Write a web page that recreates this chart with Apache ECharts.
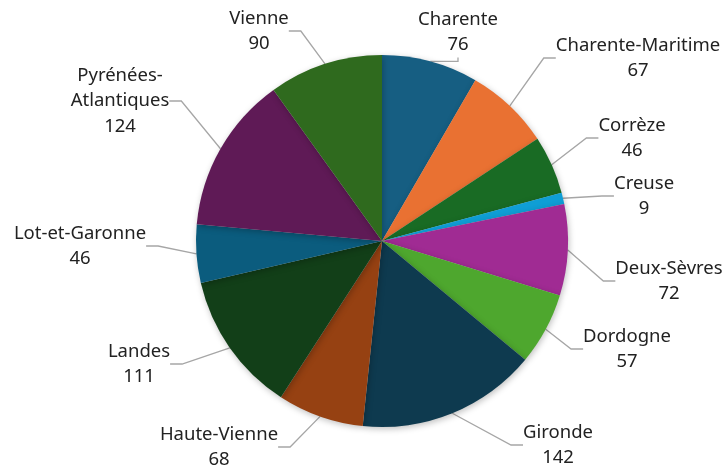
<!DOCTYPE html>
<html>
<head>
<meta charset="utf-8">
<script src="https://cdn.jsdelivr.net/npm/echarts@6/dist/echarts.min.js"></script>
<style>
  html, body { margin: 0; padding: 0; background: #ffffff; }
  #chart { width: 726px; height: 468px; }
</style>
</head>
<body>
<div id="chart"></div>
<script>
// Départements and their counts
const departements = [
  'Charente', 'Charente-Maritime', 'Corrèze', 'Creuse', 'Deux-Sèvres', 'Dordogne',
  'Gironde', 'Haute-Vienne', 'Landes', 'Lot-et-Garonne', 'Pyrénées-\nAtlantiques', 'Vienne'
];
const valeurs = [76, 67, 46, 9, 72, 57, 142, 68, 111, 46, 124, 90];
const couleurs = [
  '#165e82', '#e97132', '#196b24', '#0f9ed5', '#a02b93', '#4ea72e',
  '#0e3a4f', '#964112', '#123f18', '#0b5c7e', '#5f1a56', '#2f6a1e'
];

// Centre of each label block, in pixels
const labelPos = [
  [458, 32], [638, 58], [632, 138], [644, 196], [669, 281], [627, 349],
  [558, 445], [219, 447], [139, 364], [80, 246], [120, 101], [259, 31]
];

const chart = echarts.init(document.getElementById('chart'));
chart.setOption({
  animation: false,
  series: [{
    type: 'pie',
    center: [382, 241],
    radius: 186,
    startAngle: 90,
    clockwise: true,
    avoidLabelOverlap: false,
    data: departements.map((name, i) => ({
      name: name,
      value: valeurs[i],
      itemStyle: { color: couleurs[i] }
    })),
    itemStyle: {
      borderWidth: 0,
      shadowBlur: 6,
      shadowOffsetX: 1,
      shadowOffsetY: 2,
      shadowColor: 'rgba(0,0,0,0.25)'
    },
    label: {
      show: true,
      formatter: '{b}\n{c}',
      fontFamily: 'Noto Sans',
      fontSize: 18.5,
      lineHeight: 25.5,
      color: '#222222'
    },
    labelLine: {
      show: true,
      length: 14,
      length2: 12,
      lineStyle: { color: '#a6a6a6', width: 1.3 }
    },
    labelLayout: function (params) {
      const p = labelPos[params.dataIndex];
      return { x: p[0], y: p[1], align: 'center', verticalAlign: 'middle' };
    }
  }]
});
</script>
</body>
</html>
